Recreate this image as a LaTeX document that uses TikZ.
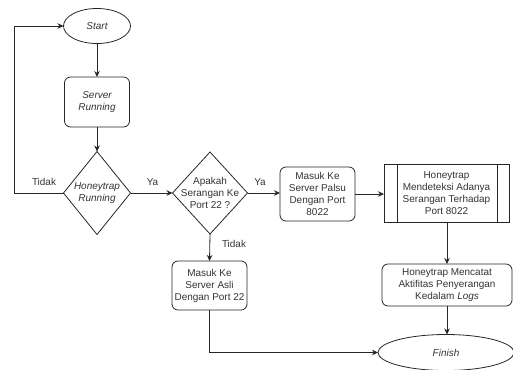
\documentclass[tikz,border=0pt]{standalone}
\usepackage{fontspec}
\setmainfont{Liberation Sans}
\usetikzlibrary{arrows.meta,shapes.geometric}
\begin{document}
\begin{tikzpicture}[x=1bp,y=-1bp,
  every node/.style={font=\fontsize{10}{12}\selectfont, text=black!80, align=center, inner sep=0pt, outer sep=0pt},
  shp/.style={draw=black!85, line width=0.8bp},
  box/.style={shp, rounded corners=6bp},
  term/.style={shp, ellipse},
  dec/.style={shp, diamond},
  arr/.style={draw=black!85, line width=0.8bp, -{Stealth[length=6bp,width=5.5bp]}},
  lbl/.style={font=\fontsize{10}{12}\selectfont}
]
\useasboundingbox (0,0) rectangle (513,369);
\node[term, minimum width=67bp, minimum height=35bp] (start) at (97,26) {\itshape Start};
\node[box, minimum width=65bp, minimum height=50bp] (srv) at (97,102) {\itshape Server\\\itshape Running};
\node[dec, minimum width=67bp, minimum height=83bp] (d1) at (97,193) {};
\node at (d1) {\itshape Honeytrap\\\itshape Running};
\node[dec, minimum width=75bp, minimum height=82bp] (d2) at (210,193) {};
\node at (d2) {Apakah\\Serangan Ke\\Port 22 ?};
\node[box, minimum width=75bp, minimum height=54bp] (palsu) at (317.5,194) {Masuk Ke\\Server Palsu\\Dengan Port\\8022};
\node[shp, minimum width=125bp, minimum height=58bp] (det) at (446.5,193) {Honeytrap\\Mendeteksi Adanya\\Serangan Terhadap\\Port 8022};
\draw[shp] ([xshift=13bp]det.north west) -- ([xshift=13bp]det.south west);
\draw[shp] ([xshift=-12bp]det.north east) -- ([xshift=-12bp]det.south east);
\node[box, minimum width=130bp, minimum height=42bp] (cat) at (447,285) {Honeytrap Mencatat\\Aktifitas Penyerangan\\Kedalam \textit{Logs}};
\node[box, minimum width=75bp, minimum height=49bp] (asli) at (209.5,285.5) {Masuk Ke\\Server Asli\\Dengan Port 22};
\node[term, minimum width=136bp, minimum height=36bp] (fin) at (446,352.5) {\itshape Finish};
\coordinate (lp) at (14,193);
\coordinate (bp) at (210,354);

\draw[arr] (start) -- (srv);
\draw[arr] (srv) -- (d1);
\draw[arr] (d1.west) -- (lp) |- (start.west);
\draw[arr] (d1.east) -- (d2.west);
\draw[arr] (d2.east) -- (d2.east -| palsu.west);
\draw[arr] (palsu.east) -- (palsu.east -| det.west);
\draw[arr] (d2.south) -- (asli.north);
\draw[arr] (det.south -| cat.north) -- (cat.north);
\draw[arr] (cat.south) -- (cat.south |- fin.north);
\draw[arr] (asli.south) -- (asli.south |- fin.west) -- (fin.west);

\node[lbl] (t1) at (44,182) {Tidak};
\node[lbl] (y1) at (152.5,182) {Ya};
\node[lbl] (y2) at (260,182) {Ya};
\node[lbl] (t2) at (234,244) {Tidak};
\end{tikzpicture}
\end{document}
